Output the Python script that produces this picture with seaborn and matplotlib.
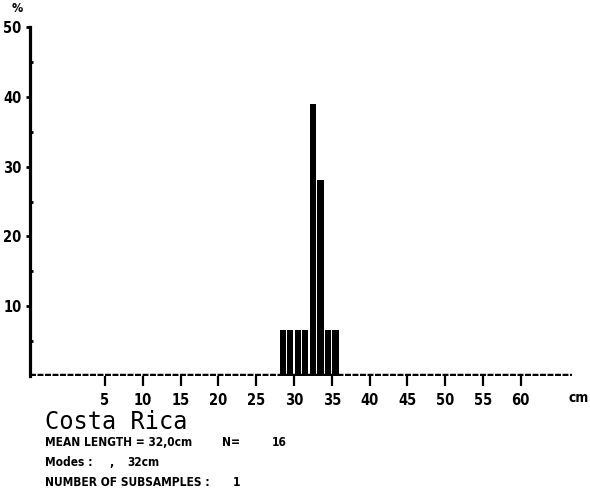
import matplotlib
matplotlib.use("Agg")
import matplotlib.pyplot as plt
import seaborn as sns
import pandas as pd
import numpy as np

# ---- data ----
length_cm = [28, 29, 30, 31, 32, 33, 34, 35]           # 1-cm length classes (lower bound)
percent = [6.6, 6.6, 6.6, 6.6, 39.0, 28.1, 6.6, 6.6]   # % frequency
x_ticks = [5, 10, 15, 20, 25, 30, 35, 40, 45, 50, 55, 60]
y_ticks = [10, 20, 30, 40, 50]

sns.set_theme(style="white")
plt.rcParams["lines.scale_dashes"] = False
NARROW = ["DejaVu Sans"]
STRETCH = "condensed"

W, H = 590, 496
fig = plt.figure(figsize=(W / 100, H / 100), dpi=100)

def fx(px):
    return px / W

def fy(py):
    return 1 - py / H

x0, x1 = 30, 572
y_top, y_bot = 27, 376
ax = fig.add_axes([fx(x0), fy(y_bot), fx(x1) - fx(x0), fy(y_top) - fy(y_bot)])

df = pd.DataFrame({"mid": [v + 0.5 for v in length_cm], "pct": percent})
sns.barplot(data=df, x="mid", y="pct", native_scale=True, width=0.82,
            color="black", edgecolor="black", linewidth=0, errorbar=None,
            saturation=1, ax=ax)

ppc = 7.56  # pixels per cm
xmin = 30 - (294 - x0) / ppc
xmax = 30 + (x1 - 294) / ppc
ax.set_xlim(xmin, xmax)
ax.set_ylim(0, 50)

# dashed baseline made of small blocks
ax.axhline(0, color="black", lw=3.2, dashes=(4.3, 1.1), zorder=1,
           solid_capstyle="butt", dash_capstyle="butt")

for s in ["top", "right", "bottom"]:
    ax.spines[s].set_visible(False)
ax.spines["left"].set_linewidth(2.3)
ax.spines["left"].set_color("black")

ax.set_xticks(x_ticks)
ax.set_xticklabels([str(v) for v in x_ticks])
ax.set_yticks(y_ticks)
ax.set_yticklabels([str(v) for v in y_ticks])
ax.set_yticks([5, 15, 25, 35, 45], minor=True)
ax.tick_params(axis="x", which="major", direction="out", length=7, width=1.6,
               color="black", pad=5, bottom=True)
ax.tick_params(axis="y", which="major", direction="out", length=3, width=2,
               color="black", pad=3, left=True)
ax.tick_params(axis="y", which="minor", direction="in", length=2, width=2,
               color="black", left=True)
for lab in ax.get_xticklabels() + ax.get_yticklabels():
    lab.set_family(NARROW)
    lab.set_fontstretch(STRETCH)
    lab.set_fontweight("bold")
    lab.set_fontsize(10.5)
    lab.set_color("black")
ax.set_xlabel("")
ax.set_ylabel("")
ax.patch.set_alpha(0)

# axis unit labels
fig.text(fx(17), fy(9), "%", family=NARROW, fontstretch=STRETCH, fontweight="bold",
         fontsize=9, ha="center", va="center", color="black")
fig.text(fx(579), fy(398), "cm", family=NARROW, fontstretch=STRETCH, fontweight="bold",
         fontsize=10, ha="center", va="center", color="black")

# footer text
fig.text(fx(45), fy(422), "Costa Rica", family=["DejaVu Sans Mono"], fontsize=17,
         ha="left", va="center", color="black")
tk = dict(family=NARROW, fontstretch=STRETCH, fontweight="bold", fontsize=8.6,
          va="center", color="black")
fig.text(fx(45), fy(443), "MEAN LENGTH = 32,0cm", ha="left", **tk)
fig.text(fx(222), fy(443), "N=", ha="left", **tk)
fig.text(fx(287), fy(443), "16", ha="right", **tk)
fig.text(fx(45), fy(462), "Modes :", ha="left", **tk)
fig.text(fx(109), fy(462), ",", ha="left", **tk)
fig.text(fx(127), fy(462), "32cm", ha="left", **tk)
fig.text(fx(45), fy(482), "NUMBER OF SUBSAMPLES :", ha="left", **tk)
fig.text(fx(233), fy(482), "1", ha="left", **tk)

fig.savefig("out.png", dpi=100, facecolor="white")
